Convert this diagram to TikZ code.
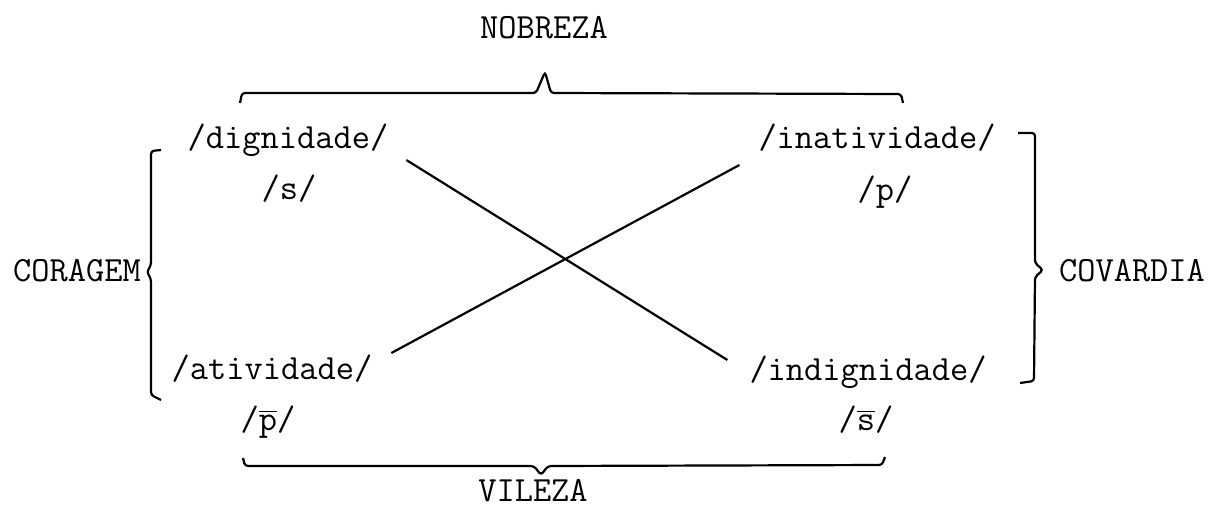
\documentclass[tikz,border=0pt]{standalone}
\usepackage{fontspec}
\usetikzlibrary{positioning, calc}
\newcommand{\ovl}[1]{$\overline{\hbox{#1}}$}

\begin{document}
\begin{tikzpicture}[x=0.5pt, y=-0.5pt, line width=1.1pt,
    term/.style={font=\fontsize{17.7}{20}\selectfont\ttfamily, inner sep=0pt, anchor=base},
    brc/.style={rounded corners=1.5pt}]
      \path[use as bounding box] (0,0) rectangle (1212,510);

      % the four terms
      \node[term] (dig)   at (288,148) {/dignidade/};
      \node[term] (inat)  at (877,148) {/inatividade/};
      \node[term] (ativ)  at (272,379) {/atividade/};
      \node[term] (indig) at (868,380) {/indignidade/};
      \node[term] (s)     at (289,199) {/s/};
      \node[term] (p)     at (885,200) {/p/};
      \node[term] (pbar)  at (268,430) {/\ovl{p}/};
      \node[term] (sbar)  at (866,430) {/\ovl{s}/};

      % the four names
      \node[term] (nob) at (544,38)  {NOBREZA};
      \node[term] (vil) at (533,501) {VILEZA};
      \node[term] (cor) at (77,281)  {CORAGEM};
      \node[term] (cov) at (1132,281) {COVARDIA};

      % crossing lines
      \draw ([shift={(17,12)}]dig.base east) -- ([shift={(-21,-20)}]indig.base west);
      \draw ([shift={(18,-26)}]ativ.base east) -- ([shift={(-18,17)}]inat.base west);

      % braces
      \draw[brc] (240,103) -- (242,93) -- (536,93) -- (545,72) -- (551,93)
        -- (901,94) -- (903,103);
      \draw[brc] (243,458) -- (245,466) -- (534,466) -- (541,475) -- (548,466)
        -- (882,465) -- (885,457);

      % brackets
      \coordinate (lt) at (161,150);
      \coordinate (lb) at (161,400);
      \coordinate (rt) at (1018,133);
      \coordinate (rb) at (1020,383);
      \draw[brc] (lt) -- (151,151) -- (151,265) -- (147,272)
        -- (151,279) -- (151,395) -- (lb);
      \draw[brc] (rt) -- (1035,133) -- (1035,263) -- (1043,270)
        -- (1035,277) -- (1034,381) -- (rb);
\end{tikzpicture}
\end{document}
